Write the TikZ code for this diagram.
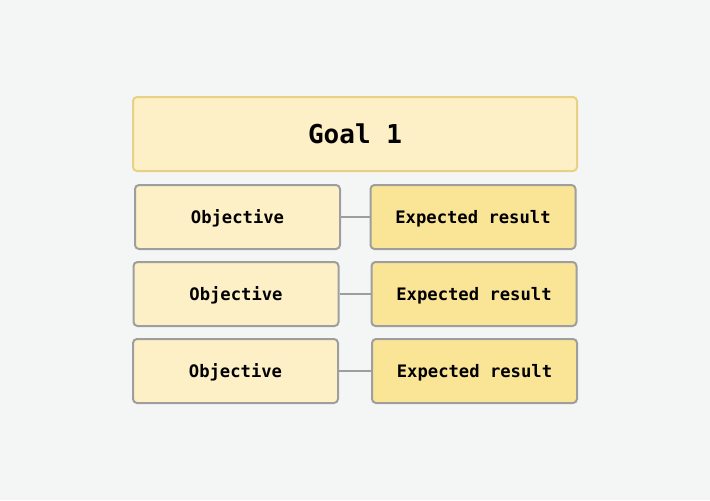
\documentclass[tikz,border=0pt]{standalone}
\usepackage{fontspec}
\setmonofont{DejaVu Sans Mono}
\usetikzlibrary{positioning}

\definecolor{pagebg}{RGB}{244,245,245}
\definecolor{goalfill}{RGB}{253,240,198}
\definecolor{goalline}{RGB}{230,209,132}
\definecolor{objfill}{RGB}{253,240,198}
\definecolor{resfill}{RGB}{250,229,150}
\definecolor{boxline}{RGB}{158,158,158}

\begin{document}
\begin{tikzpicture}[x=0.75pt,y=0.75pt,yscale=-1,xscale=1,
  goalbox/.style={draw=goalline,fill=goalfill,line width=1.5pt,rounded corners=3pt,
    minimum width=333pt,minimum height=55.5pt,inner sep=0pt,
    font=\ttfamily\bfseries\fontsize{19.5}{22}\selectfont},
  objbox/.style={draw=boxline,fill=objfill,line width=1.5pt,rounded corners=3pt,
    minimum width=153.75pt,minimum height=48pt,inner sep=0pt,text depth=0pt,
    font=\ttfamily\bfseries\fontsize{12.9}{15}\selectfont},
  resbox/.style={objbox,fill=resfill},
  link/.style={draw=boxline,line width=1.5pt}]

\fill[pagebg] (0,0) rectangle (710,500);
\useasboundingbox (0,0) rectangle (710,500);

\node[goalbox] (goal) at (355,134) {Goal 1};

\node[objbox] (obj1) at (237.5,217) {Objective};
\node[objbox] (obj2) at (236,294) {Objective};
\node[objbox] (obj3) at (235.5,371) {Objective};

\node[resbox] (res1) at (473,217) {Expected result};
\node[resbox] (res2) at (474,294) {Expected result};
\node[resbox] (res3) at (474.5,371) {Expected result};

\draw[link] (obj1) -- (res1);
\draw[link] (obj2) -- (res2);
\draw[link] (obj3) -- (res3);

\end{tikzpicture}
\end{document}
